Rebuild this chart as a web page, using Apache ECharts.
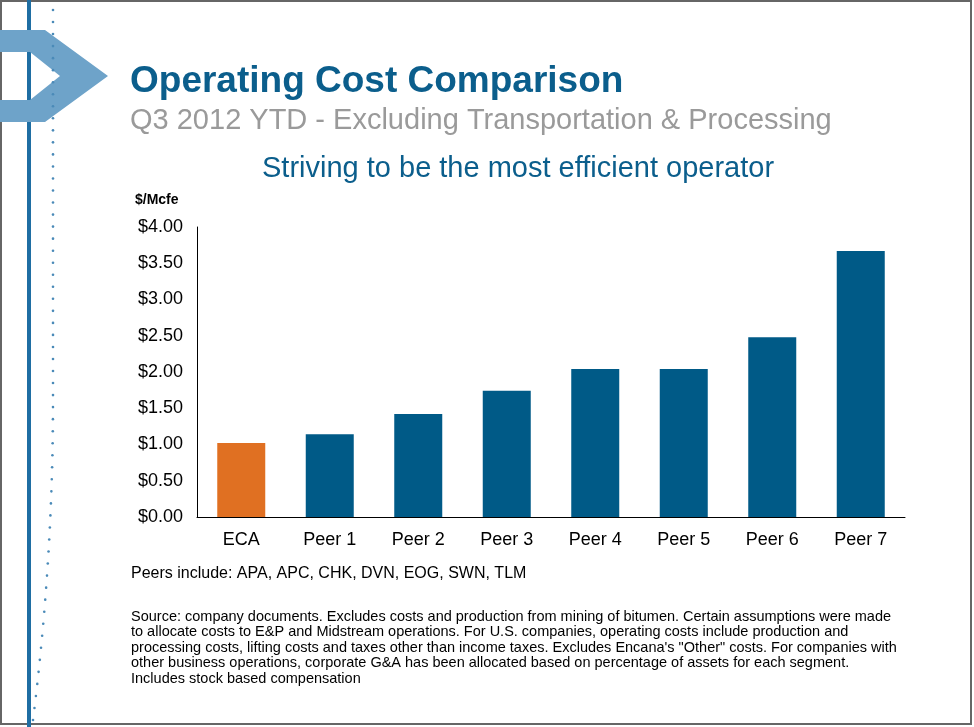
<!DOCTYPE html>
<html><head><meta charset="utf-8">
<script src="https://cdn.jsdelivr.net/npm/echarts@6/dist/echarts.min.js"></script>
<style>html,body{margin:0;padding:0;background:#fff}#c{width:974px;height:727px}</style>
</head><body><div id="c"></div>
<script>
const categories = ['ECA','Peer 1','Peer 2','Peer 3','Peer 4','Peer 5','Peer 6','Peer 7'];
const costs = [1.02, 1.14, 1.42, 1.74, 2.04, 2.04, 2.48, 3.67];
const yTicks = [0, 0.5, 1, 1.5, 2, 2.5, 3, 3.5, 4];
const blue = '#005a87', orange = '#e07022';
const chart = echarts.init(document.getElementById('c'));
const dots = [];
for (let i = 0; i < 60; i++) {
  const t = i / 59;
  const y = 10 + t * 710;
  const x = 53 - 20 * Math.max(0, (t - 0.55) / 0.45) ** 2;
  dots.push({type:'circle', shape:{cx:x, cy:y, r:1.3}, style:{fill:'#4a8ab8'}});
}
chart.setOption({
  animation:false,
  graphic:[
    {type:'rect', shape:{x:1,y:1,width:970,height:723}, style:{fill:'none', stroke:'#666', lineWidth:2}},
    {type:'rect', shape:{x:27,y:0,width:4,height:727}, style:{fill:'#1f6ea3'}},
    {type:'polygon', shape:{points:[[0,30],[45,30],[108,76],[45,122],[0,122],[0,100],[30,100],[60,76],[30,52],[0,52]]}, style:{fill:'#6ea3c9'}},
    ...dots,
    {type:'text', left:130, top:63, style:{text:'Operating Cost Comparison', fill:'#0b5e8c', font:'bold 37px Arial, Liberation Sans'}},
    {type:'text', left:130, top:106, style:{text:'Q3 2012 YTD - Excluding Transportation & Processing', fill:'#9a9a9a', font:'29px Arial, Liberation Sans'}},
    {type:'text', left:262, top:154, style:{text:'Striving to be the most efficient operator', fill:'#0b5e8c', font:'29px Arial, Liberation Sans'}},
    {type:'text', left:135, top:193, style:{text:'$/Mcfe', fill:'#000', font:'bold 14px Arial, Liberation Sans'}},
    {type:'text', left:131, top:566, style:{text:'Peers include: APA, APC, CHK, DVN, EOG, SWN, TLM', fill:'#000', font:'16px Arial, Liberation Sans'}},
    {type:'text', left:131, top:609, style:{text:'Source: company documents. Excludes costs and production from mining of bitumen. Certain assumptions were made\nto allocate costs to E&P and Midstream operations. For U.S. companies, operating costs include production and\nprocessing costs, lifting costs and taxes other than income taxes. Excludes Encana\'s "Other" costs. For companies with\nother business operations, corporate G&A has been allocated based on percentage of assets for each segment.\nIncludes stock based compensation', fill:'#000', font:'14.5px Arial, Liberation Sans', lineHeight:15.5}}
  ],
  grid:{left:197, top:227, width:708, height:290},
  xAxis:{type:'category', data:categories, axisTick:{show:false},
    axisLine:{lineStyle:{color:'#000'}}, axisLabel:{color:'#000', fontSize:18, fontFamily:'Arial, Liberation Sans', margin:14}},
  yAxis:{type:'value', min:0, max:4, interval:0.5, splitLine:{show:false},
    axisLine:{show:true, lineStyle:{color:'#000'}}, axisTick:{show:false},
    axisLabel:{color:'#000', fontSize:18, fontFamily:'Arial, Liberation Sans', margin:14,
      formatter:v => yTicks.includes(v) ? '$' + v.toFixed(2) : ''}},
  series:[{type:'bar', barWidth:48,
    data:costs.map((v,i)=>({value:v, itemStyle:{color:i===0?orange:blue}}))}]
});
</script></body></html>
